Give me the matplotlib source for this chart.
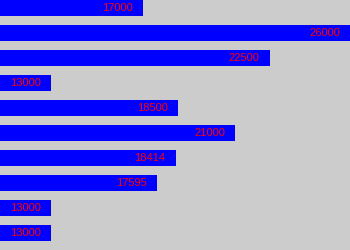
import matplotlib
matplotlib.use("Agg")
import matplotlib.pyplot as plt

values = [17000, 26000, 22500, 13000, 18500, 21000, 18414, 17595, 13000, 13000]
labels = [str(v) for v in values]

fig = plt.figure(figsize=(3.5, 2.5), dpi=100)
fig.patch.set_facecolor("#cccccc")
ax = fig.add_axes([0, 0, 1, 1])
ax.set_facecolor("#cccccc")

positions = list(range(len(values)))
ax.barh(positions, values, height=0.64, color="#0000ff", left=0)

for pos, val, lab in zip(positions, values, labels):
    ax.annotate(lab, xy=(val, pos), xytext=(-10, 0), textcoords="offset pixels",
                ha="right", va="center", color="#ff0000",
                fontsize=8, family="Liberation Sans")

ax.set_xlim(min(values) * 0.8294, max(values))
ax.set_ylim(len(values) - 0.32, -0.32)
ax.axis("off")

fig.savefig("out.png", dpi=100, facecolor=fig.get_facecolor())
